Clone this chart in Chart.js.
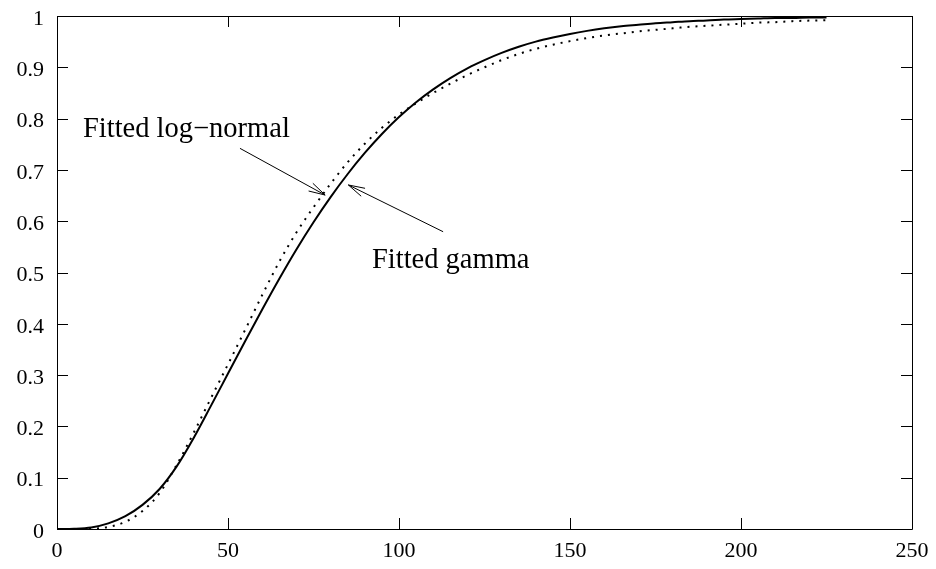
<!DOCTYPE html>
<html>
<head>
<meta charset="utf-8">
<script src="https://cdn.jsdelivr.net/npm/chart.js@4/dist/chart.umd.min.js"></script>
<style>
html,body{margin:0;padding:0;background:#fff;}
#wrap{width:936px;height:569px;}
</style>
</head>
<body>
<div id="wrap"><canvas id="c" width="936" height="569"></canvas></div>
<script>
// ---- data ----
const xValues = [0,5,10,15,20,25,30,35,40,45,50,55,60,65,70,75,80,85,90,95,100,105,110,115,120,125,130,135,140,145,150,155,160,165,170,175,180,185,190,195,200,205,210,215,220,225];
const gammaCdf = [0,0.0005,0.003,0.011,0.025,0.047,0.078,0.122,0.178,0.24,0.303,0.366,0.428,0.488,0.545,0.598,0.647,0.692,0.733,0.77,0.803,0.832,0.857,0.879,0.898,0.914,0.928,0.94,0.95,0.958,0.965,0.971,0.976,0.98,0.983,0.986,0.988,0.99,0.991,0.993,0.994,0.995,0.996,0.996,0.997,0.997];
const lognormalCdf = [0,0,0.0005,0.004,0.014,0.035,0.07,0.125,0.188,0.255,0.321,0.388,0.456,0.521,0.578,0.627,0.673,0.715,0.751,0.782,0.808,0.83,0.85,0.868,0.885,0.9,0.914,0.926,0.936,0.944,0.951,0.957,0.962,0.966,0.97,0.973,0.976,0.979,0.981,0.983,0.985,0.987,0.988,0.99,0.991,0.992];
const xTicks = [0,50,100,150,200,250];
const yTicks = [0,0.1,0.2,0.3,0.4,0.5,0.6,0.7,0.8,0.9,1];
const labelLognormal = "Fitted log\u2212normal";
const labelGamma = "Fitted gamma";

const FONT = "'Liberation Serif', 'Times New Roman', serif";

function pts(ys){ return xValues.map((x,i)=>({x:x, y:ys[i]})); }

// annotation placement (data units)
const annotations = [
  {text: labelLognormal, tx: 7.6, ty: 0.764, ax0: 53.5, ay0: 0.742, ax1: 78.4, ay1: 0.651},
  {text: labelGamma, tx: 92.1, ty: 0.509, ax0: 112.9, ay0: 0.5795, ax1: 85.2, ay1: 0.6706}
];

const framePlugin = {
  id: 'frame',
  afterDatasetsDraw(chart){
    const ctx = chart.ctx, a = chart.chartArea;
    const xs = chart.scales.x, ys = chart.scales.y;
    const TL = 11;
    ctx.save();
    ctx.strokeStyle = '#000';
    ctx.lineWidth = 1;
    ctx.beginPath();
    ctx.rect(Math.round(a.left)+0.5, Math.round(a.top)+0.5, Math.round(a.right-a.left), Math.round(a.bottom-a.top));
    ctx.stroke();
    ctx.beginPath();
    xTicks.forEach(v=>{
      const px = Math.round(xs.getPixelForValue(v))+0.5;
      ctx.moveTo(px, a.bottom); ctx.lineTo(px, a.bottom-TL);
      ctx.moveTo(px, a.top); ctx.lineTo(px, a.top+TL);
    });
    yTicks.forEach(v=>{
      const py = Math.round(ys.getPixelForValue(v))+0.5;
      ctx.moveTo(a.left, py); ctx.lineTo(a.left+TL, py);
      ctx.moveTo(a.right, py); ctx.lineTo(a.right-TL, py);
    });
    ctx.stroke();
    // annotations
    ctx.fillStyle = '#000';
    ctx.font = '28.5px ' + FONT;
    ctx.textBaseline = 'alphabetic';
    ctx.textAlign = 'left';
    annotations.forEach(an=>{
      ctx.fillText(an.text, xs.getPixelForValue(an.tx), ys.getPixelForValue(an.ty));
      const x0 = xs.getPixelForValue(an.ax0), y0 = ys.getPixelForValue(an.ay0);
      const x1 = xs.getPixelForValue(an.ax1), y1 = ys.getPixelForValue(an.ay1);
      const ang = Math.atan2(y1-y0, x1-x0);
      const L = 17, h = 15*Math.PI/180;
      ctx.beginPath();
      ctx.moveTo(x0,y0); ctx.lineTo(x1,y1);
      ctx.moveTo(x1 - L*Math.cos(ang-h), y1 - L*Math.sin(ang-h));
      ctx.lineTo(x1,y1);
      ctx.lineTo(x1 - L*Math.cos(ang+h), y1 - L*Math.sin(ang+h));
      ctx.stroke();
    });
    ctx.restore();
  }
};

new Chart(document.getElementById('c'), {
  type: 'line',
  data: {
    datasets: [
      {label: 'Fitted gamma', data: pts(gammaCdf), borderColor:'#000', borderWidth:2, pointRadius:0, fill:false, cubicInterpolationMode:'monotone'},
      {label: 'Fitted log-normal', data: pts(lognormalCdf), borderColor:'#000', borderWidth:2, borderDash:[2,6], borderCapStyle:'butt', pointRadius:0, fill:false, cubicInterpolationMode:'monotone'}
    ]
  },
  options: {
    responsive: false,
    animation: false,
    events: [],
    layout: {padding: {top:16, right:24, left:0, bottom:0}},
    plugins: {legend:{display:false}, tooltip:{enabled:false}},
    scales: {
      x: {
        type:'linear', min:0, max:250,
        afterBuildTicks: s => { s.ticks = xTicks.map(v=>({value:v})); },
        afterFit: s => { s.height = 40; s.paddingLeft = 0; s.paddingRight = 0; },
        ticks: {color:'#000', font:{family:FONT, size:22}, padding:9, maxRotation:0, autoSkip:false, callback: v => String(v)},
        grid: {display:false, drawTicks:false},
        border: {display:false}
      },
      y: {
        type:'linear', min:0, max:1,
        afterBuildTicks: s => { s.ticks = yTicks.map(v=>({value:v})); },
        afterFit: s => { s.width = 57; s.paddingTop = 0; s.paddingBottom = 0; },
        ticks: {color:'#000', font:{family:FONT, size:22}, padding:13, labelOffset:3, autoSkip:false, callback: v => String(Math.round(v*10)/10)},
        grid: {display:false, drawTicks:false},
        border: {display:false}
      }
    }
  },
  plugins: [framePlugin]
});
</script>
</body>
</html>
